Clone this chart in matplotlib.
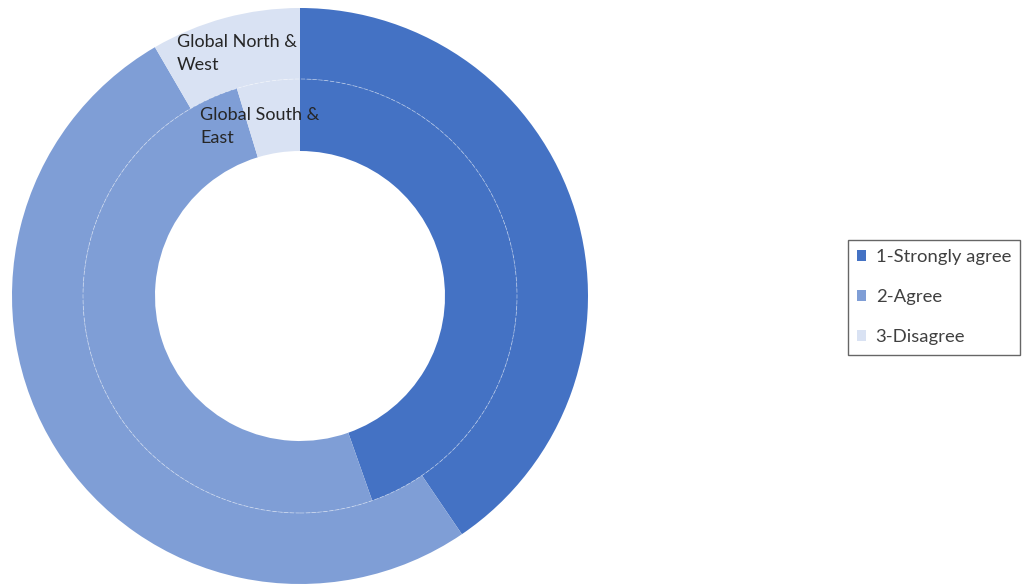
import matplotlib.pyplot as plt
from matplotlib.patches import Patch, Circle

# данные (доли ответов, %)
categories = ['1-Strongly agree', '2-Agree', '3-Disagree']
north_west = [40.5, 51.1, 8.4]   # внешнее кольцо
south_east = [44.6, 50.7, 4.7]   # внутреннее кольцо
ring_names = ['Global North &\nWest', 'Global South &\nEast']
colors = ['#4472C4', '#7F9ED6', '#D9E2F3']

plt.rcParams['font.family'] = ['Lato', 'DejaVu Sans']

fig = plt.figure(figsize=(10.29, 5.88), dpi=100)
W, H = 1029, 588
R = 288  # радиус внешнего кольца в пикселях
cx, cy = 300, 296
ax = fig.add_axes([(cx - R) / W, (H - cy - R) / H, 2 * R / W, 2 * R / H])
ax.set_aspect('equal')
ax.axis('off')

r_mid = 217 / R

ax.pie(north_west, radius=1, colors=colors, startangle=90, counterclock=False,
       wedgeprops=dict(width=71 / R, linewidth=0))
ax.pie(south_east, radius=r_mid, colors=colors, startangle=90, counterclock=False,
       wedgeprops=dict(width=72 / R, linewidth=0))
ax.set_xlim(-1, 1)
ax.set_ylim(-1, 1)

# тонкая граница между кольцами
ax.add_patch(Circle((0, 0), r_mid, fill=False, edgecolor='white', lw=0.6,
                    linestyle=(0, (5, 2)), alpha=0.45))

# подписи колец
fig.text(177 / W, 1 - 34 / H, ring_names[0], ha='left', va='top',
         fontsize=13, color='#262626', linespacing=1.55)
fig.text(200 / W, 1 - 107 / H, ring_names[1], ha='left', va='top',
         fontsize=13, color='#262626', linespacing=1.55)

handles = [Patch(facecolor=c, edgecolor='none') for c in colors]
leg = fig.legend(handles, categories, loc='upper left',
                 bbox_to_anchor=(848 / W, 1 - 240 / H), frameon=True,
                 fancybox=False, edgecolor='#404040', fontsize=13.3,
                 handlelength=0.5, handleheight=0.5, handletextpad=0.5,
                 labelspacing=1.3, borderpad=0.5, borderaxespad=0,
                 labelcolor='#404040')
leg.get_frame().set_linewidth(1.0)

fig.savefig('out.png', dpi=100)
